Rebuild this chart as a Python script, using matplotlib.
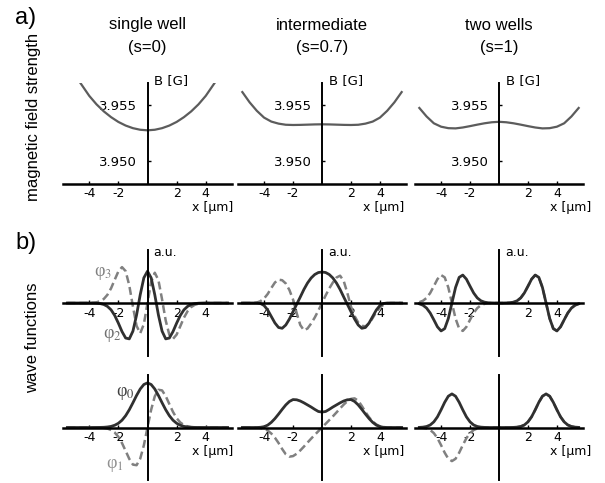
import matplotlib
matplotlib.use('Agg')
import matplotlib.pyplot as plt

plt.rcParams['font.family'] = ['DejaVu Sans']
plt.rcParams['mathtext.fontset'] = 'stix'

# ---------------- data ----------------
titles_top = ['single well', 'intermediate', 'two wells']
titles_bot = ['(s=0)', '(s=0.7)', '(s=1)']
xtick_vals = [-4, -2, 2, 4]
xtick_labels = ['-4', '-2', '2', '4']
ytick_vals = [3.950, 3.955]
ytick_labels = ['3.950', '3.955']

# panel a: magnetic field strength B [G]
xa_single = [-4.6, -4.0, -3.5, -3.0, -2.5, -2.0, -1.5, -1.0, -0.5, 0.0,
             0.5, 1.0, 1.5, 2.0, 2.5, 3.0, 3.5, 4.0, 4.6]
B_single = [3.95689, 3.95577, 3.95502, 3.95440, 3.95389, 3.95347, 3.95315, 3.95292, 3.95278, 3.95273,
            3.95278, 3.95292, 3.95315, 3.95347, 3.95389, 3.95440, 3.95502, 3.95577, 3.95689]
xa_wide = [-5.5, -5.0, -4.5, -4.0, -3.5, -3.0, -2.5, -2.0, -1.5, -1.0, -0.5, 0.0,
           0.5, 1.0, 1.5, 2.0, 2.5, 3.0, 3.5, 4.0, 4.5, 5.0, 5.5]
B_inter = [3.9561, 3.9552, 3.95445, 3.95385, 3.9535, 3.95332, 3.95322, 3.9532, 3.95321, 3.95323, 3.95325, 3.95326,
           3.95325, 3.95323, 3.95321, 3.9532, 3.95322, 3.95332, 3.9535, 3.95385, 3.95445, 3.9552, 3.9561]
B_two = [3.95470, 3.95395, 3.95335, 3.95305, 3.95292, 3.95290, 3.95298, 3.95310, 3.95323, 3.95335, 3.95344, 3.95348,
         3.95344, 3.95335, 3.95323, 3.95310, 3.95298, 3.95290, 3.95292, 3.95305, 3.95335, 3.95395, 3.95470]

# panel b: wave functions (a.u.)
xb = [-5.5, -5.25, -5.0, -4.75, -4.5, -4.25, -4.0, -3.75, -3.5, -3.25, -3.0, -2.75, -2.5, -2.25, -2.0,
      -1.75, -1.5, -1.25, -1.0, -0.75, -0.5, -0.25, 0.0, 0.25, 0.5, 0.75, 1.0, 1.25, 1.5, 1.75, 2.0,
      2.25, 2.5, 2.75, 3.0, 3.25, 3.5, 3.75, 4.0, 4.25, 4.5, 4.75, 5.0, 5.25, 5.5]

phi0_c1 = [0, 0, 0, 0, 0, 0, 0, 0, 0.001, 0.002, 0.004, 0.010, 0.021, 0.043, 0.080, 0.139, 0.225, 0.338,
           0.471, 0.610, 0.733, 0.819, 0.850, 0.819, 0.733, 0.610, 0.471, 0.338, 0.225, 0.139, 0.080,
           0.043, 0.021, 0.010, 0.004, 0.002, 0.001, 0, 0, 0, 0, 0, 0, 0, 0]
phi1_c1 = [0, 0, 0, 0, 0, 0, 0, 0, -0.001, -0.003, -0.008, -0.021, -0.047, -0.096, -0.177, -0.297, -0.446,
           -0.598, -0.707, -0.718, -0.594, -0.338, 0, 0.338, 0.594, 0.718, 0.707, 0.598, 0.446, 0.297,
           0.177, 0.096, 0.047, 0.021, 0.008, 0.003, 0.001, 0, 0, 0, 0, 0, 0, 0, 0]
phi2_c1 = [0, 0, 0, 0, 0, 0, 0, -0.001, -0.004, -0.011, -0.028, -0.064, -0.129, -0.235, -0.380, -0.539,
           -0.661, -0.677, -0.531, -0.227, 0.155, 0.475, 0.600, 0.475, 0.155, -0.227, -0.531, -0.677,
           -0.661, -0.539, -0.380, -0.235, -0.129, -0.064, -0.028, -0.011, -0.004, -0.001, 0, 0, 0, 0, 0, 0, 0]
phi3_c1 = [0, 0, 0, 0, 0, 0, 0.002, 0.005, 0.013, 0.034, 0.076, 0.155, 0.278, 0.439, 0.596, 0.677, 0.601,
           0.331, -0.068, -0.431, -0.571, -0.398, 0, 0.398, 0.571, 0.431, 0.068, -0.331, -0.601, -0.677,
           -0.596, -0.439, -0.278, -0.155, -0.076, -0.034, -0.013, -0.005, -0.002, 0, 0, 0, 0, 0, 0]

phi0_c2 = [0, 0, 0, 0, 0, 0.004, 0.015, 0.045, 0.098, 0.170, 0.255, 0.345, 0.430, 0.496, 0.532, 0.528,
           0.505, 0.470, 0.430, 0.390, 0.345, 0.305, 0.294, 0.305, 0.345, 0.390, 0.430, 0.470, 0.505,
           0.528, 0.532, 0.496, 0.430, 0.345, 0.255, 0.170, 0.098, 0.045, 0.015, 0.004, 0, 0, 0, 0, 0]
phi1_c2 = [0, 0, 0, 0, -0.002, -0.008, -0.024, -0.058, -0.115, -0.195, -0.295, -0.410, -0.510, -0.555,
           -0.545, -0.500, -0.437, -0.364, -0.287, -0.212, -0.140, -0.070, 0, 0.070, 0.140, 0.212, 0.287,
           0.364, 0.437, 0.500, 0.545, 0.555, 0.510, 0.410, 0.295, 0.195, 0.115, 0.058, 0.024, 0.008,
           0.002, 0, 0, 0, 0]
phi2_c2 = [0, 0, 0, 0, 0, -0.009, -0.047, -0.132, -0.255, -0.377, -0.462, -0.477, -0.415, -0.302, -0.163,
           -0.025, 0.113, 0.255, 0.377, 0.472, 0.538, 0.575, 0.585, 0.575, 0.538, 0.472, 0.377, 0.255,
           0.113, -0.025, -0.163, -0.302, -0.415, -0.477, -0.462, -0.377, -0.255, -0.132, -0.047, -0.009,
           0, 0, 0, 0, 0]
phi3_c2 = [0, 0, 0, 0, 0.009, 0.034, 0.085, 0.170, 0.283, 0.387, 0.440, 0.430, 0.368, 0.245, 0.066,
           -0.189, -0.415, -0.515, -0.481, -0.387, -0.274, -0.142, 0, 0.142, 0.274, 0.387, 0.481, 0.515,
           0.415, 0.189, -0.066, -0.245, -0.368, -0.430, -0.440, -0.387, -0.283, -0.170, -0.085, -0.034,
           -0.009, 0, 0, 0, 0]

phi0_c3 = [0.002, 0.007, 0.019, 0.048, 0.107, 0.203, 0.336, 0.480, 0.596, 0.640, 0.596, 0.480, 0.336,
           0.203, 0.107, 0.048, 0.019, 0.007, 0.002, 0, 0, 0, 0, 0, 0, 0, 0.002, 0.007, 0.019, 0.048,
           0.107, 0.203, 0.336, 0.480, 0.596, 0.640, 0.596, 0.480, 0.336, 0.203, 0.107, 0.048, 0.019,
           0.007, 0.002]
phi1_c3 = [-0.002, -0.007, -0.019, -0.048, -0.107, -0.203, -0.336, -0.480, -0.596, -0.640, -0.596,
           -0.480, -0.336, -0.203, -0.107, -0.048, -0.019, -0.007, -0.002, 0, 0, 0, 0, 0, 0, 0, 0.002,
           0.007, 0.019, 0.048, 0.107, 0.203, 0.336, 0.480, 0.596, 0.640, 0.596, 0.480, 0.336, 0.203,
           0.107, 0.048, 0.019, 0.007, 0.002]
phi2_c3 = [-0.016, -0.042, -0.096, -0.189, -0.317, -0.450, -0.527, -0.484, -0.293, 0, 0.293, 0.484,
           0.527, 0.450, 0.317, 0.189, 0.096, 0.042, 0.016, 0.005, 0.002, 0, 0, 0, 0.002, 0.005, 0.016,
           0.042, 0.096, 0.189, 0.317, 0.450, 0.527, 0.484, 0.293, 0, -0.293, -0.484, -0.527, -0.450,
           -0.317, -0.189, -0.096, -0.042, -0.016]
phi3_c3 = [0.016, 0.042, 0.096, 0.189, 0.317, 0.450, 0.527, 0.484, 0.293, 0, -0.293, -0.484, -0.527,
           -0.450, -0.317, -0.189, -0.096, -0.042, -0.016, -0.005, -0.002, 0, 0, 0, 0.002, 0.005, 0.016,
           0.042, 0.096, 0.189, 0.317, 0.450, 0.527, 0.484, 0.293, 0, -0.293, -0.484, -0.527, -0.450,
           -0.317, -0.189, -0.096, -0.042, -0.016]

# ---------------- layout ----------------
W, H = 605, 483
fig = plt.figure(figsize=(W / 100, H / 100), dpi=100)
cols_px = [(63, 232), (238, 406), (415, 583)]
rows_px = {'a': (83, 184), 'b1': (250, 356), 'b2': (375, 480)}

SOLID = '#303030'
DASH = '#808080'
CURVE_A = '#5c5c5c'


def fx(px):
    return px / W


def fy(py):
    return 1 - py / H


def make_ax(c, r, xpad=3):
    L, R = cols_px[c]
    T, Bt = rows_px[r]
    ax = fig.add_axes([L / W, 1 - Bt / H, (R - L) / W, (Bt - T) / H])
    ax.patch.set_visible(False)
    ax.set_xlim(-5.8, 5.8)
    for s in ('top', 'right'):
        ax.spines[s].set_visible(False)
    ax.spines['left'].set_position(('data', 0))
    ax.spines['left'].set_linewidth(1.4)
    ax.spines['bottom'].set_linewidth(1.8)
    ax.set_xticks(xtick_vals)
    ax.set_xticklabels(xtick_labels)
    ax.tick_params(axis='x', direction='in', length=2.5, width=1, labelsize=9, pad=xpad)
    return ax


# panel a
a_x = [xa_single, xa_wide, xa_wide]
a_B = [B_single, B_inter, B_two]
for c in range(3):
    ax = make_ax(c, 'a', xpad=2.2)
    ax.set_ylim(3.9480, 3.9569)
    ax.plot(a_x[c], a_B[c], color=CURVE_A, lw=1.6)
    ax.set_yticks(ytick_vals)
    ax.set_yticklabels(ytick_labels)
    ax.tick_params(axis='y', direction='in', length=2.5, width=1, labelsize=9.5, pad=7.5)
    zero_px = (cols_px[c][0] + cols_px[c][1]) / 2
    fig.text(fx(zero_px), fy(25), titles_top[c], ha='center', va='center',
             fontsize=12, family='Liberation Sans')
    fig.text(fx(zero_px), fy(47.5), titles_bot[c], ha='center', va='center',
             fontsize=12, family='Liberation Sans')
    fig.text(fx(zero_px + 7), fy(81), 'B [G]', ha='left', va='center', fontsize=9.5)

# panel b
upper = [(phi2_c1, phi3_c1), (phi2_c2, phi3_c2), (phi2_c3, phi3_c3)]
lower = [(phi0_c1, phi1_c1), (phi0_c2, phi1_c2), (phi0_c3, phi1_c3)]
for c in range(3):
    for r, pair in (('b1', upper[c]), ('b2', lower[c])):
        ax = make_ax(c, r, xpad=3 if r == 'b1' else 2.2)
        ax.set_ylim(-1, 1)
        ax.spines['bottom'].set_position(('data', 0))
        ax.set_yticks([])
        ax.plot(xb, pair[1], color=DASH, lw=1.8, ls=(0, (3.2, 1.6)))
        ax.plot(xb, pair[0], color=SOLID, lw=2.0)
    zero_px = (cols_px[c][0] + cols_px[c][1]) / 2
    fig.text(fx(zero_px + 6), fy(252), 'a.u.', ha='left', va='center', fontsize=9)

# x-axis labels
xlab_right = [233, 404, 591]
for c in range(3):
    fig.text(fx(xlab_right[c]), fy(207), 'x [µm]', ha='right', va='center', fontsize=9)
    fig.text(fx(xlab_right[c]), fy(451), 'x [µm]', ha='right', va='center', fontsize=9)

# phi labels
phi_font = dict(ha='center', va='center', fontsize=13, family='Liberation Serif')
fig.text(fx(103), fy(274), 'φ$_3$', color='#808080', **phi_font)
fig.text(fx(112), fy(335), 'φ$_2$', color='#707070', **phi_font)
fig.text(fx(125), fy(393), 'φ$_0$', color='#404040', **phi_font)
fig.text(fx(115), fy(465), 'φ$_1$', color='#909090', **phi_font)

# panel letters and side labels
fig.text(fx(26), fy(18), 'a)', ha='center', va='center', fontsize=17, family='Liberation Sans')
fig.text(fx(26), fy(243), 'b)', ha='center', va='center', fontsize=17, family='Liberation Sans')
fig.text(fx(34), fy(117), 'magnetic field strength', rotation=90, ha='center', va='center',
         fontsize=12, family='Liberation Sans')
fig.text(fx(33), fy(338), 'wave functions', rotation=90, ha='center', va='center',
         fontsize=12, family='Liberation Sans')

fig.savefig('out.png', dpi=100)
